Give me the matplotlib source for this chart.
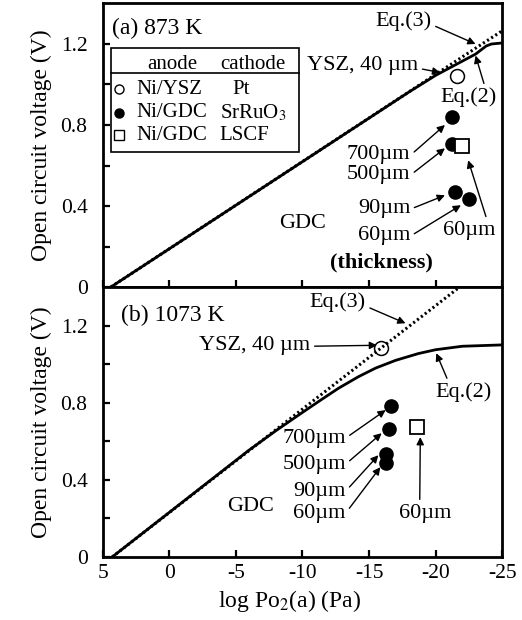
import matplotlib
matplotlib.use('Agg')
import matplotlib.pyplot as plt
from matplotlib.lines import Line2D

plt.rcParams['font.family'] = ['Liberation Serif', 'DejaVu Serif']
plt.rcParams['mathtext.fontset'] = 'stix'

# 873 K panel (a)
eq3_a_x = [4.4, -25.0]
eq3_a_y = [0.0, 1.265]
eq2_a_x = [4.4, -18.0, -20.0, -21.0, -22.0, -23.0, -23.8, -24.2, -25.0]
eq2_a_y = [0.0, 0.963, 1.045, 1.08, 1.115, 1.15, 1.19, 1.20, 1.205]
ysz_a_x = [-21.6]
ysz_a_y = [1.044]
gdc_a_x = [-21.25, -21.2, -21.45, -22.5]      # 700, 500, 90, 60 um
gdc_a_y = [0.839, 0.708, 0.469, 0.437]
lscf_a_x = [-21.95]
lscf_a_y = [0.696]

# 1073 K panel (b)
eq3_b_x = [4.3, -21.8]
eq3_b_y = [0.0, 1.40]
eq2_b_x = [4.3, -6.0, -8.0, -10.0, -11.5, -12.7, -14.2, -15.5, -17.0, -18.7, -20.0, -22.0, -25.0]
eq2_b_y = [0.0, 0.555, 0.655, 0.75, 0.82, 0.875, 0.935, 0.98, 1.02, 1.055, 1.075, 1.093, 1.10]
ysz_b_x = [-15.9]
ysz_b_y = [1.085]
gdc_b_x = [-16.67, -16.47, -16.27, -16.27]
gdc_b_y = [0.782, 0.663, 0.536, 0.489]
lscf_b_x = [-18.6]
lscf_b_y = [0.672]

thick_labels = ['700\u00b5m', '500\u00b5m', '90\u00b5m', '60\u00b5m']

fig = plt.figure(figsize=(5.22, 6.2), dpi=100)
ax1 = fig.add_axes([0.197, 0.537, 0.765, 0.4574])
ax2 = fig.add_axes([0.197, 0.1016, 0.765, 0.4354])

yticks = [0, 0.2, 0.4, 0.6, 0.8, 1.0, 1.2]
ylabels = ['0', '', '0.4', '', '0.8', '', '1.2']
for ax in (ax1, ax2):
    ax.set_xlim(5, -25)
    ax.set_ylim(0, 1.4)
    ax.set_yticks(yticks)
    ax.set_yticklabels(ylabels)
    ax.set_xticks([5, 0, -5, -10, -15, -20, -25])
    ax.tick_params(direction='in', length=5, width=1.6, labelsize=15.5,
                   top=False, right=False)
    ax.tick_params(axis='y', pad=11)
    ax.tick_params(axis='x', pad=5)
    for s in ax.spines.values():
        s.set_linewidth(2)
    ax.set_ylabel('Open circuit voltage (V)', fontsize=17, labelpad=6)
ax1.set_xticklabels([])
ax2.set_xticklabels(['5', '0', '-5', '-10', '-15', '-20', '-25'])
ax2.set_xlabel('log Po$_2$(a) (Pa)', fontsize=17, labelpad=3)
ax2.xaxis.set_label_coords(0.468, -0.115)

dot = (0, (0.7, 0.9))
mk = dict(linestyle='none', color='k', zorder=5)

# ---- panel (a)
ax1.plot(eq3_a_x, eq3_a_y, color='k', lw=2.2, ls=dot)
ax1.plot(eq2_a_x, eq2_a_y, color='k', lw=2)
ax1.plot(ysz_a_x, ysz_a_y, marker='o', ms=10, mfc='white', mec='k', mew=1.1, **mk)
ax1.plot(gdc_a_x, gdc_a_y, marker='o', ms=9.5, mfc='k', mec='k', **mk)
ax1.plot(lscf_a_x, lscf_a_y, marker='s', ms=10, mfc='white', mec='k', mew=1.3, **mk)

arr = dict(arrowstyle='-|>', color='k', lw=1, mutation_scale=11, shrinkA=1, shrinkB=0)
fs = 16

ax1.text(4.3, 1.276, '(a) 873 K', fontsize=17, va='center', ha='left')
ax1.annotate('Eq.(3)', xy=(-23.0, 1.20), xytext=(-19.7, 1.315), fontsize=fs,
             ha='right', va='center', arrowprops=dict(arr, relpos=(1, 0.3)))
ax1.annotate('YSZ, 40 \u00b5m', xy=(-20.35, 1.059), xytext=(-18.7, 1.094), fontsize=fs,
             ha='right', va='center', arrowprops=dict(arr, relpos=(1, 0.35)))
ax1.annotate('Eq.(2)', xy=(-23.0, 1.143), xytext=(-22.5, 0.936), fontsize=fs,
             ha='center', va='center', arrowprops=dict(arr, relpos=(0.8, 0.9)))
tips_a = [(-20.7, 0.80), (-20.7, 0.685), (-20.7, 0.453), (-21.9, 0.404)]
ty_a = [0.655, 0.557, 0.389, 0.256]
for lab, tip, ty in zip(thick_labels, tips_a, ty_a):
    ax1.annotate(lab, xy=tip, xytext=(-18.1, ty), fontsize=fs, ha='right', va='center',
                 arrowprops=dict(arr, relpos=(1, 0.45)))
ax1.annotate('60\u00b5m', xy=(-22.45, 0.626), xytext=(-22.5, 0.281), fontsize=fs,
             ha='center', va='center', arrowprops=dict(arr, relpos=(0.85, 1)))
ax1.text(-10.0, 0.315, 'GDC', fontsize=fs, ha='center', va='center')
ax1.text(-15.9, 0.123, '(thickness)', fontsize=fs, ha='center', va='center',
         fontweight='bold')

# legend table
t = ax1.transAxes
ax1.add_patch(plt.Rectangle((0.020, 0.476), 0.471, 0.367, transform=t,
                            fill=False, lw=1.2, zorder=6))
ax1.add_line(Line2D([0.020, 0.491], [0.755, 0.755], transform=t, color='k', lw=1.2))
lfs = 15
ax1.text(0.175, 0.785, 'anode', transform=t, fontsize=lfs, ha='center', va='center')
ax1.text(0.293, 0.785, 'cathode', transform=t, fontsize=lfs, ha='left', va='center')
rows_y = [0.698, 0.614, 0.536]
row_mk = [('o', 'white'), ('o', 'k'), ('s', 'white')]
row_an = ['Ni/YSZ', 'Ni/GDC', 'Ni/GDC']
row_ca = ['Pt', 'SrRuO$_3$', 'LSCF']
for yy, (m, fc), an, ca in zip(rows_y, row_mk, row_an, row_ca):
    ax1.add_line(Line2D([0.040], [yy], transform=t, marker=m, ms=6.5, mfc=fc,
                        mec='k', mew=1, ls='none'))
    ax1.text(0.085, yy, an, transform=t, fontsize=lfs, ha='left', va='center')
    if ca == 'Pt':
        ax1.text(0.346, yy, ca, transform=t, fontsize=lfs, ha='center', va='center')
    else:
        ax1.text(0.293, yy, ca, transform=t, fontsize=lfs, ha='left', va='center')

# ---- panel (b)
ax2.plot(eq3_b_x, eq3_b_y, color='k', lw=2.2, ls=dot)
ax2.plot(eq2_b_x, eq2_b_y, color='k', lw=2)
ax2.plot(ysz_b_x, ysz_b_y, marker='o', ms=10, mfc='none', mec='k', mew=1.1, **mk)
ax2.plot(gdc_b_x, gdc_b_y, marker='o', ms=9.5, mfc='k', mec='k', **mk)
ax2.plot(lscf_b_x, lscf_b_y, marker='s', ms=10, mfc='white', mec='k', mew=1.3, **mk)

ax2.text(3.6, 1.254, '(b) 1073 K', fontsize=17, va='center', ha='left')
ax2.annotate('Eq.(3)', xy=(-17.74, 1.212), xytext=(-12.65, 1.321), fontsize=fs,
             ha='center', va='center', arrowprops=dict(arr, relpos=(1, 0.3)))
ax2.annotate('YSZ, 40 \u00b5m', xy=(-15.6, 1.098), xytext=(-10.6, 1.098), fontsize=fs,
             ha='right', va='center', arrowprops=dict(arr, relpos=(1, 0.45)))
ax2.annotate('Eq.(2)', xy=(-20.05, 1.057), xytext=(-22.1, 0.855), fontsize=fs,
             ha='center', va='center', arrowprops=dict(arr, relpos=(0.25, 0.9)))
tips_b = [(-16.25, 0.762), (-15.95, 0.642), (-15.7, 0.528), (-15.85, 0.466)]
ty_b = [0.617, 0.482, 0.342, 0.228]
for lab, tip, ty in zip(thick_labels, tips_b, ty_b):
    ax2.annotate(lab, xy=tip, xytext=(-13.25, ty), fontsize=fs, ha='right', va='center',
                 arrowprops=dict(arr, relpos=(1, 0.5)))
ax2.annotate('60\u00b5m', xy=(-18.85, 0.622), xytext=(-19.2, 0.228), fontsize=fs,
             ha='center', va='center', arrowprops=dict(arr, relpos=(0.4, 1)))
ax2.text(-6.1, 0.26, 'GDC', fontsize=fs, ha='center', va='center')

fig.savefig('out.png', dpi=100)
